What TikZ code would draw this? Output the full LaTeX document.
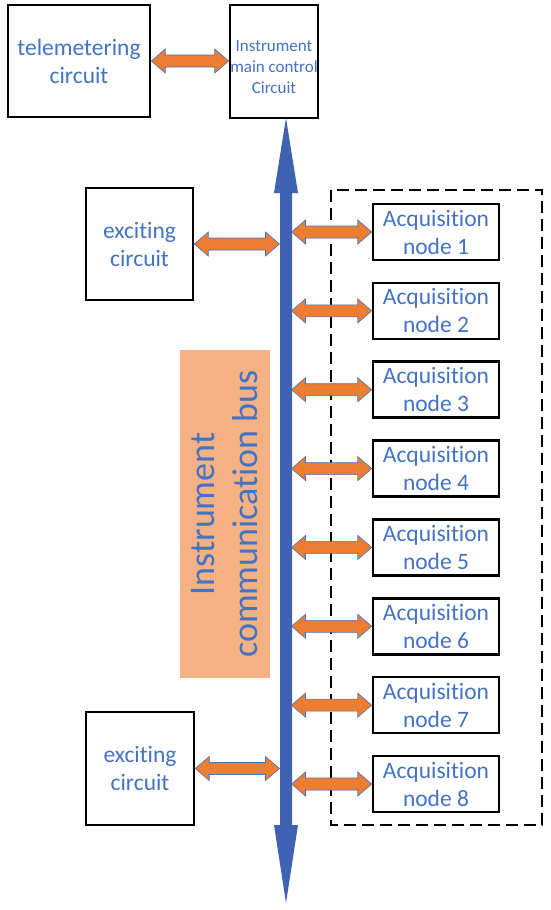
\documentclass[tikz,border=0pt]{standalone}
\usepackage{fontspec}
\setmainfont[Ligatures={NoCommon}]{Carlito}
\usepackage{tikz}
\usetikzlibrary{calc}
\definecolor{txtblue}{HTML}{4472C4}
\definecolor{busblue}{HTML}{3F63B2}
\definecolor{linkorange}{HTML}{ED7D31}
\definecolor{labelfill}{HTML}{F4B183}
\tikzstyle{block} = [draw=black, line width=2.5pt, text=txtblue, align=center, inner sep=0pt, font=\fontsize{23.5}{28}\selectfont]
\tikzstyle{acqbox} = [block, minimum width=126pt, minimum height=56pt]
\tikzstyle{link} = [fill=linkorange, draw=txtblue, line width=0.6pt, line join=miter]

% double arrow between two points (left tip, right tip)
\newcommand{\dblarrow}[2]{%
  \draw[link] let \p1=#1, \p2=#2 in
    (\x1,\y1) -- (\x1+14pt,\y1+12pt) -- (\x1+14pt,\y1+6pt) -- (\x2-14pt,\y1+6pt)
    -- (\x2-14pt,\y1+12pt) -- (\x2,\y1) -- (\x2-14pt,\y1-12pt) -- (\x2-14pt,\y1-6pt)
    -- (\x1+14pt,\y1-6pt) -- (\x1+14pt,\y1-12pt) -- cycle;}

\begin{document}
\begin{tikzpicture}[x=1pt,y=-1pt]
  \useasboundingbox (0,0) rectangle (550,910);

  % Label bus
  \fill[labelfill] (180,350) rectangle (270,678);
  \node[rotate=90, text=txtblue, align=center, font=\fontsize{36}{43}\selectfont] (buslabel) at (225,514) {Instrument\\communication bus};

  % Kotak atas
  \node[block, minimum width=142pt, minimum height=112pt] (telemeter) at (79,61) {telemetering\\circuit};
  \node[block, minimum width=88pt, minimum height=113pt] (mainctrl) at (274,61.5) {};
  \node[text=txtblue, align=center, inner sep=0pt, font=\fontsize{17}{21}\selectfont] (mainctrltext) at ($(mainctrl.center)+(0,5.5)$) {Instrument\\main control\\Circuit};
  \dblarrow{(telemeter.east)}{(mainctrl.west)}

  % Bus komunikasi
  \coordinate (busL) at (279.5,0);
  \coordinate (busR) at (291.5,0);
  \fill[busblue] (286,118) -- (298,193) -- (292,193) -- (292,825) -- (298,825) -- (286,903)
    -- (274,825) -- (280,825) -- (280,193) -- (274,193) -- cycle;

  % Rangkaian eksitasi
  \node[block, minimum width=107pt, minimum height=112pt] (excite1) at (139.5,244) {exciting\\circuit};
  \node[block, minimum width=108pt, minimum height=113pt] (excite2) at (140,768.5) {exciting\\circuit};
  \dblarrow{(excite1.east)}{(excite1.east -| busL)}
  \dblarrow{(excite2.east)}{(excite2.east -| busL)}

  % Node akuisisi
  \draw[line width=2.5pt, dash pattern=on 12pt off 6pt] (331,190) rectangle (542,825);
  \foreach \i in {1,...,8} {
    \pgfmathsetmacro\yy{232+78.86*(\i-1)}
    \node[acqbox] (acq\i) at (436,\yy) {Acquisition\\node \i};
    \dblarrow{(acq\i.west -| busR)}{(acq\i.west)}
  }
\end{tikzpicture}
\end{document}
